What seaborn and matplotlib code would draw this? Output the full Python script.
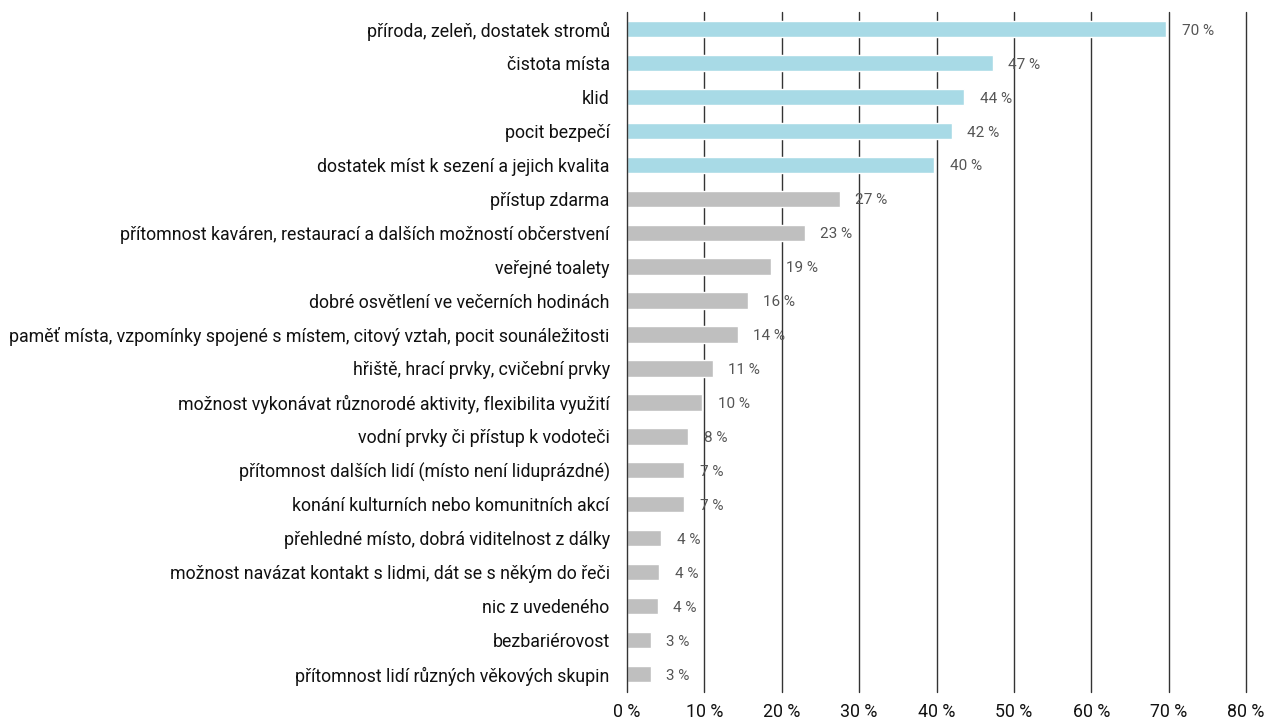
import matplotlib
matplotlib.use("Agg")
import matplotlib.pyplot as plt
import seaborn as sns
import pandas as pd

categories = [
    "příroda, zeleň, dostatek stromů",
    "čistota místa",
    "klid",
    "pocit bezpečí",
    "dostatek míst k sezení a jejich kvalita",
    "přístup zdarma",
    "přítomnost kaváren, restaurací a dalších možností občerstvení",
    "veřejné toalety",
    "dobré osvětlení ve večerních hodinách",
    "paměť místa, vzpomínky spojené s místem, citový vztah, pocit sounáležitosti",
    "hřiště, hrací prvky, cvičební prvky",
    "možnost vykonávat různorodé aktivity, flexibilita využití",
    "vodní prvky či přístup k vodoteči",
    "přítomnost dalších lidí (místo není liduprázdné)",
    "konání kulturních nebo komunitních akcí",
    "přehledné místo, dobrá viditelnost z dálky",
    "možnost navázat kontakt s lidmi, dát se s někým do řeči",
    "nic z uvedeného",
    "bezbariérovost",
    "přítomnost lidí různých věkových skupin",
]
values = [69.7, 47.3, 43.6, 42.0, 39.7, 27.5, 23.0, 18.6, 15.6, 14.3,
          11.1, 9.7, 7.9, 7.4, 7.4, 4.4, 4.2, 4.0, 3.1, 3.1]
labels = ["70 %", "47 %", "44 %", "42 %", "40 %", "27 %", "23 %", "19 %", "16 %", "14 %",
          "11 %", "10 %", "8 %", "7 %", "7 %", "4 %", "4 %", "4 %", "3 %", "3 %"]
groups = ["top"] * 5 + ["rest"] * 15
xticks = [0, 10, 20, 30, 40, 50, 60, 70, 80]
xticklabels = ["0 %", "10 %", "20 %", "30 %", "40 %", "50 %", "60 %", "70 %", "80 %"]

df = pd.DataFrame({"cat": categories, "val": values, "grp": groups})

sns.set_theme(style="white")
plt.rcParams["font.family"] = ["Roboto", "DejaVu Sans"]

fig = plt.figure(figsize=(12.68, 7.24), dpi=100)
ax = fig.add_axes([627 / 1268, 1 - 692 / 724, (1246 - 627) / 1268, (692 - 12) / 724])

sns.barplot(data=df, x="val", y="cat", hue="grp", orient="h",
            palette={"top": "#a8dae6", "rest": "#bfbfbf"},
            dodge=False, legend=False, width=0.48, ax=ax, zorder=3, saturation=1)

for x in xticks:
    ax.axvline(x, color="#333333", lw=1.0, zorder=4 if x == 0 else 1, clip_on=False)

for i, (v, lab) in enumerate(zip(values, labels)):
    ax.text(v + 2.0, i + 0.05, lab, va="center", ha="left", fontsize=11,
            color="#555555")

ax.set_xlim(0, 80)
ax.set_ylim(19.53, -0.5)
ax.set_xticks(xticks)
ax.set_xticklabels(xticklabels, fontsize=12.8, color="#111111")
ax.tick_params(axis="x", length=0, pad=8)
ax.tick_params(axis="y", length=0, pad=12.5, labelsize=12.8, labelcolor="#111111")
ax.set_xlabel("")
ax.set_ylabel("")
for s in ax.spines.values():
    s.set_visible(False)

fig.savefig("out.png", dpi=100)
